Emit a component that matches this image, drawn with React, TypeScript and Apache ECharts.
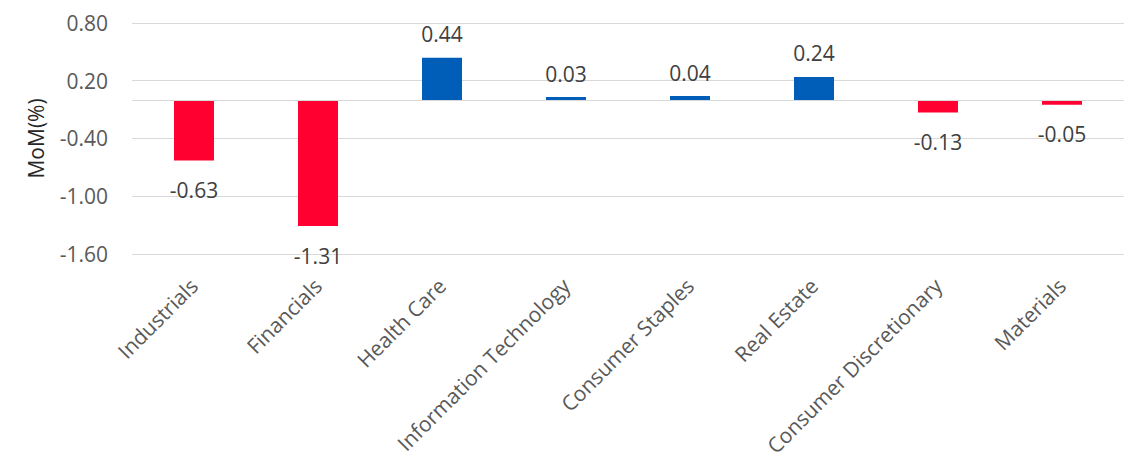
import React, { useEffect, useRef } from "react";
import * as echarts from "echarts";

const categories = [
  "Industrials",
  "Financials",
  "Health Care",
  "Information Technology",
  "Consumer Staples",
  "Real Estate",
  "Consumer Discretionary",
  "Materials",
];
const momValues = [-0.63, -1.31, 0.44, 0.03, 0.04, 0.24, -0.13, -0.05];
const yTicks = [-1.6, -1.0, -0.4, 0.2, 0.8];
const yTickLabels = ["-1.60", "-1.00", "-0.40", "0.20", "0.80"];

const RED = "#FF0030";
const BLUE = "#005EB8";
const FONT = "Open Sans";

export default function App() {
  const ref = useRef<HTMLDivElement>(null);
  useEffect(() => {
    if (!ref.current) return;
    const chart = echarts.init(ref.current, undefined, { renderer: "svg" });
    const yMin = yTicks[0];
    const yMax = yTicks[yTicks.length - 1];
    const step = yTicks[1] - yTicks[0];
    const data = momValues.map((v) => ({
      value: v,
      itemStyle: { color: v >= 0 ? BLUE : RED },
      label: {
        position: v >= 0 ? "top" : "bottom",
        distance: v >= 0 ? 13 : 19,
      },
    }));
    chart.setOption({
      animation: false,
      grid: { left: 132, width: 996, top: 23, bottom: 203, containLabel: false },
      xAxis: {
        type: "category",
        data: categories,
        axisLine: { show: false, onZero: false },
        axisTick: { show: false },
        splitLine: { show: false },
        axisLabel: {
          interval: 0,
          rotate: 45,
          margin: 28,
          color: "#595959",
          fontSize: 21,
          fontFamily: FONT,
        },
      },
      yAxis: [
        {
          type: "value",
          show: false,
          min: yMin,
          max: yMax,
          splitLine: { show: false },
        },
        {
          type: "value",
          position: "left",
          min: 0,
          max: yMax - yMin,
          interval: step,
          name: "MoM(%)",
          nameLocation: "middle",
          nameGap: 86,
          nameTextStyle: { color: "#262626", fontSize: 21, fontFamily: FONT },
          axisLine: { show: false },
          axisTick: { show: false },
          axisLabel: {
            margin: 24,
            color: "#595959",
            fontSize: 21,
            fontFamily: FONT,
            formatter: (_v: number, i: number) => yTickLabels[i] ?? "",
          },
          splitLine: { show: true, lineStyle: { color: "#D9D9D9", width: 1.2 } },
        },
      ],
      series: [
        {
          type: "bar",
          yAxisIndex: 0,
          barWidth: 40,
          data,
          label: {
            show: true,
            color: "#404040",
            fontSize: 21,
            fontFamily: FONT,
            formatter: (p: any) => Number(p.value).toFixed(2),
          },
          markLine: {
            silent: true,
            symbol: "none",
            label: { show: false },
            lineStyle: { color: "#D9D9D9", width: 1.2, type: "solid" },
            data: [{ yAxis: 0 }],
          },
          z: 3,
        },
      ],
    });
    return () => chart.dispose();
  }, []);
  return (
    <div
      ref={ref}
      style={{ position: "absolute", left: 0, top: 0, width: 1124, height: 459, background: "#fff" }}
    />
  );
}
